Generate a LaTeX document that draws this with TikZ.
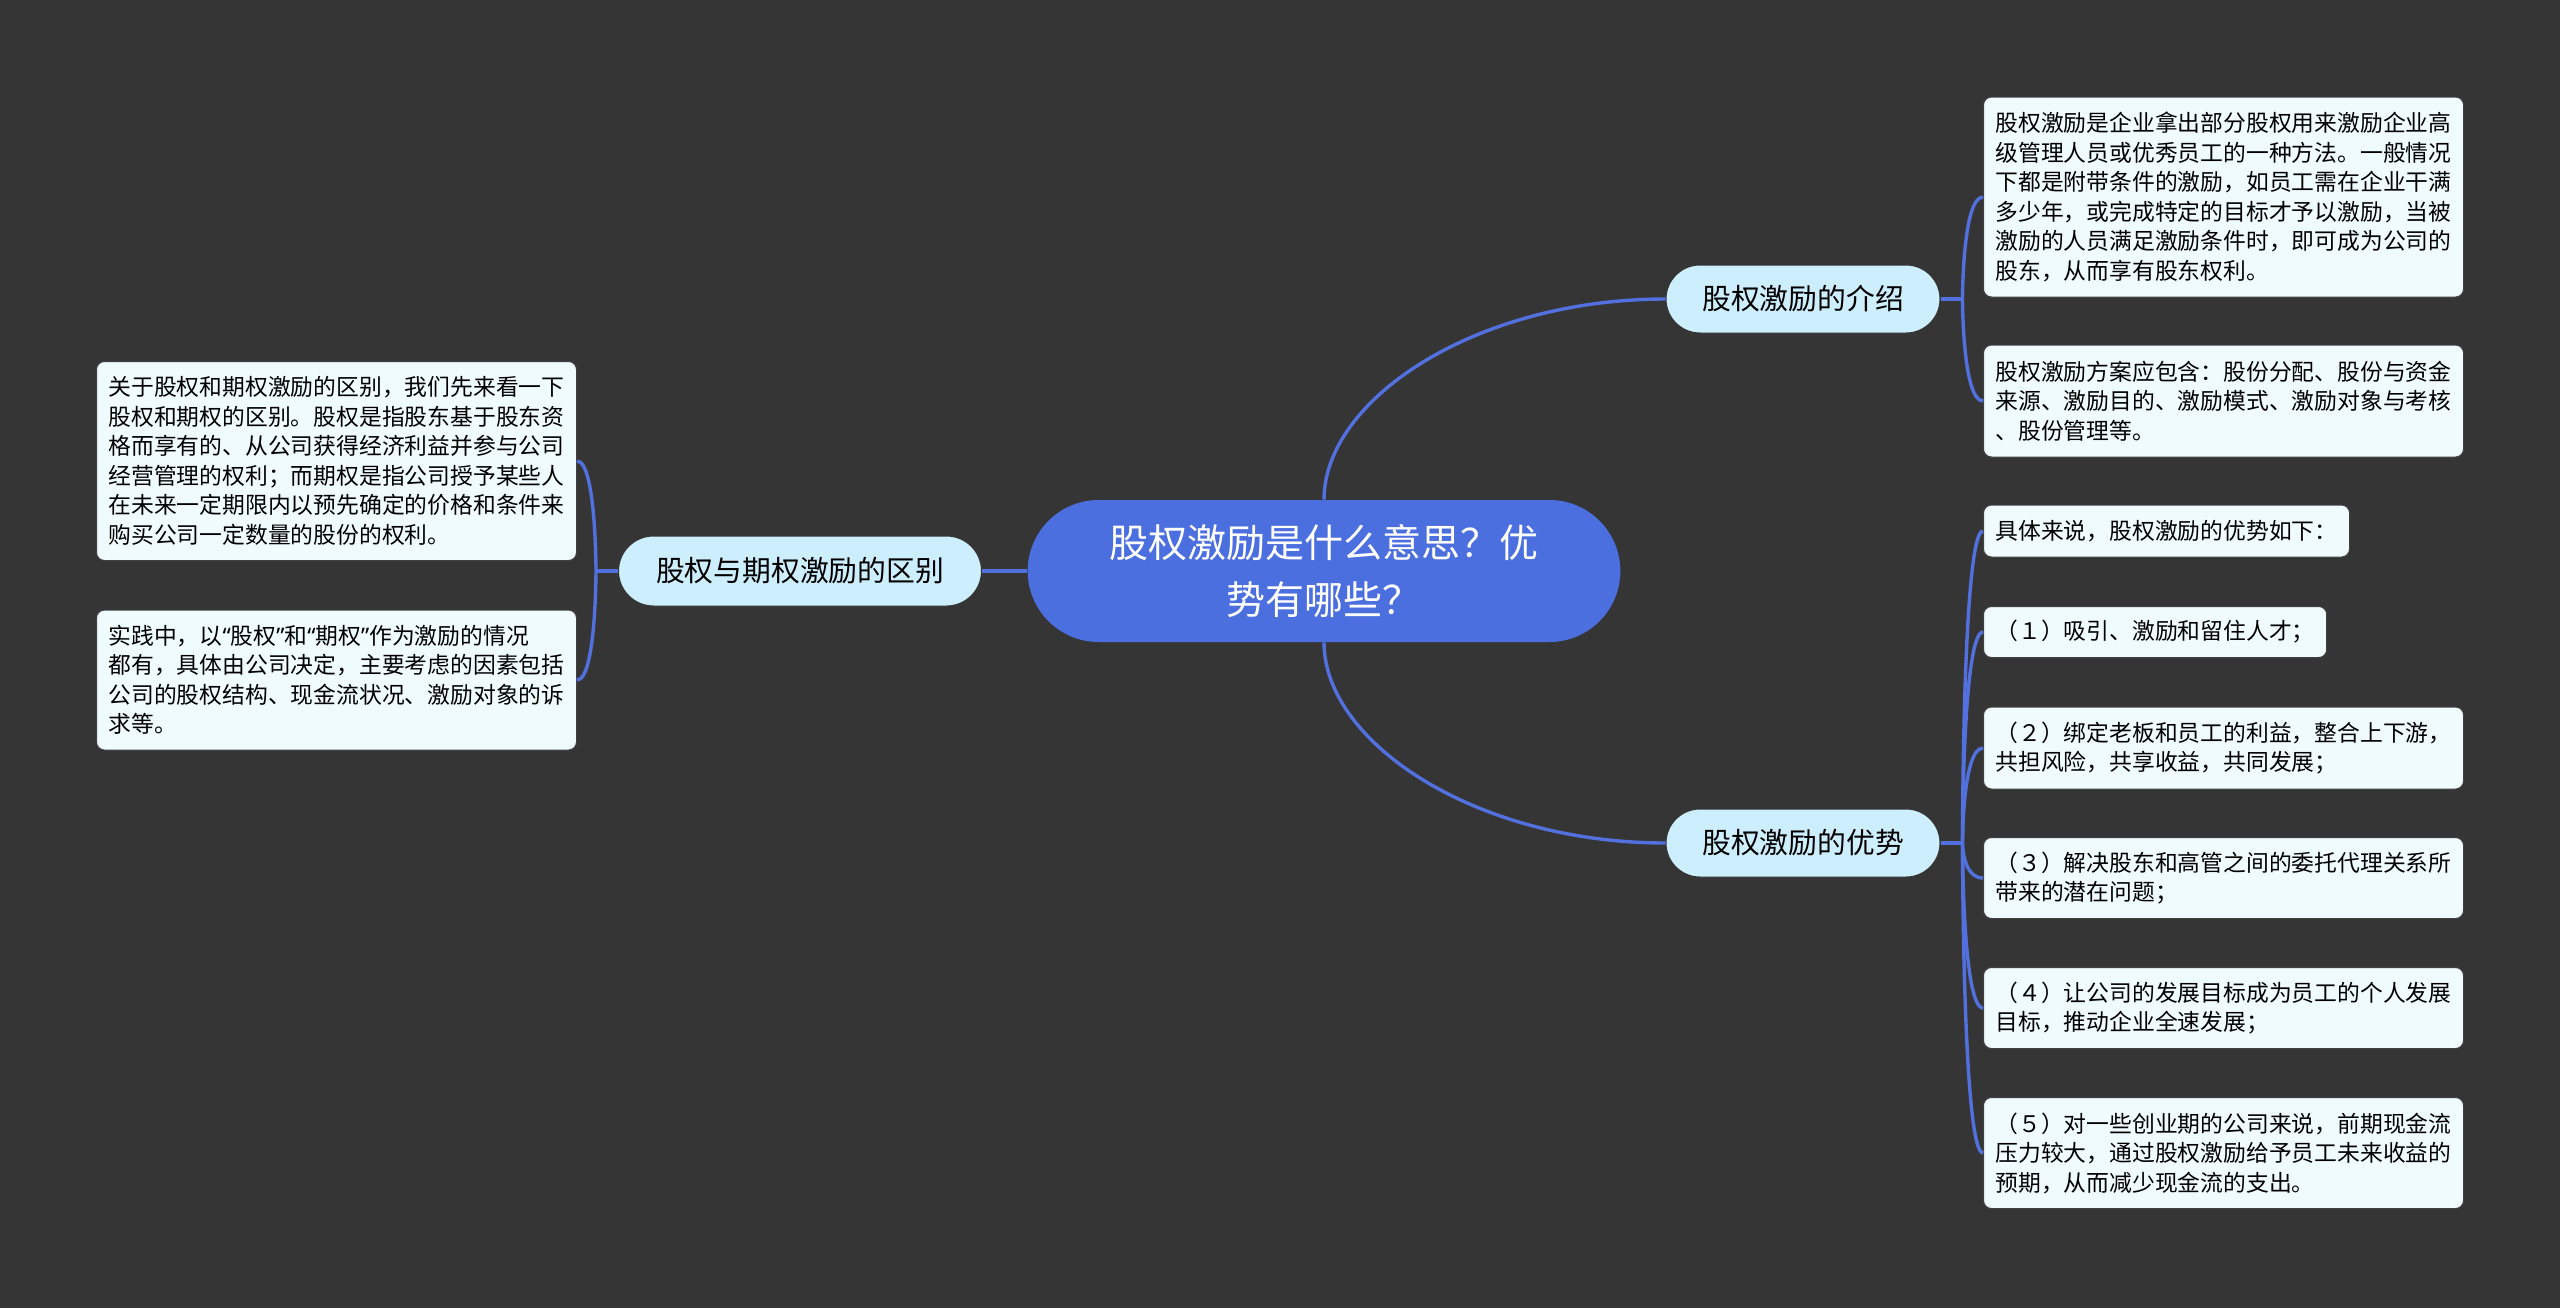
\documentclass[tikz,border=0pt]{standalone}
\usepackage{fontspec}
\setmainfont{Noto Sans CJK SC}
\newfontfamily\quotefont{Noto Sans}
\usetikzlibrary{shapes.misc,calc}
\definecolor{bgdark}{RGB}{54,53,54}
\definecolor{topicblue}{RGB}{76,111,223}
\definecolor{linkblue}{RGB}{82,112,222}
\definecolor{subfill}{RGB}{205,238,252}
\definecolor{leaffill}{RGB}{240,251,253}
\newcommand{\quoted}[1]{{\quotefont “}#1{\quotefont ”}}

\begin{document}
\begin{tikzpicture}[
    x=0.5pt, y=-0.5pt,
    topic/.style={rounded rectangle, fill=topicblue, text=white, minimum width=303pt, minimum height=71pt, align=center, font=\fontsize{19.5pt}{28.8pt}\selectfont},
    subtopic/.style={rounded rectangle, draw=black!80, line width=0.5pt, fill=subfill, minimum height=34pt, inner xsep=0pt, font=\fontsize{14.4pt}{17pt}\selectfont},
    leafbox/.style={rectangle, rounded corners=4pt, draw=black!75, line width=0.5pt, fill=leaffill, align=left, inner xsep=6pt, inner ysep=0pt, minimum width=240pt, font=\fontsize{11.4pt}{14.75pt}\selectfont},
    link/.style={draw=linkblue, line width=1.7pt}
]
    \useasboundingbox (0,0) rectangle (2560,1308);
    \fill[bgdark] (0,0) rectangle (2560,1308);

    % main topic and the three branches
    \node [topic] (main) at (1324,571) {股权激励是什么意思？优\\势有哪些？};
    \node [subtopic, minimum width=137pt] (intro) at (1803,299) {股权激励的介绍};
    \node [subtopic, minimum width=137pt] (adv) at (1803,843) {股权激励的优势};
    \node [subtopic, minimum width=181.5pt, minimum height=35pt] (diff) at (800,571) {股权与期权激励的区别};

    % right side, intro
    \node [leafbox, anchor=west, minimum height=100pt] (i1) at (1983,197) {股权激励是企业拿出部分股权用来激励企业高\\级管理人员或优秀员工的一种方法。一般情况\\下都是附带条件的激励，如员工需在企业干满\\多少年，或完成特定的目标才予以激励，当被\\激励的人员满足激励条件时，即可成为公司的\\股东，从而享有股东权利。};
    \node [leafbox, anchor=west, minimum height=56pt] (i2) at (1983,401) {股权激励方案应包含：股份分配、股份与资金\\来源、激励目的、激励模式、激励对象与考核\\、股份管理等。};

    % right side, advantages
    \node [leafbox, anchor=west, minimum width=182.5pt, minimum height=26pt] (a0) at (1983,531) {具体来说，股权激励的优势如下：};
    \node [leafbox, anchor=west, minimum width=171pt, minimum height=25.5pt] (a1) at (1983,632) {（１）吸引、激励和留住人才；};
    \node [leafbox, anchor=west, minimum height=41pt] (a2) at (1983,748) {（２）绑定老板和员工的利益，整合上下游，\\共担风险，共享收益，共同发展；};
    \node [leafbox, anchor=west, minimum height=40.5pt] (a3) at (1983,878) {（３）解决股东和高管之间的委托代理关系所\\带来的潜在问题；};
    \node [leafbox, anchor=west, minimum height=40.5pt] (a4) at (1983,1008) {（４）让公司的发展目标成为员工的个人发展\\目标，推动企业全速发展；};
    \node [leafbox, anchor=west, minimum height=55.5pt] (a5) at (1983,1153) {（５）对一些创业期的公司来说，前期现金流\\压力较大，通过股权激励给予员工未来收益的\\预期，从而减少现金流的支出。};

    % left side
    \node [leafbox, anchor=east, minimum height=99.5pt] (l1) at (577,461) {关于股权和期权激励的区别，我们先来看一下\\股权和期权的区别。股权是指股东基于股东资\\格而享有的、从公司获得经济利益并参与公司\\经营管理的权利；而期权是指公司授予某些人\\在未来一定期限内以预先确定的价格和条件来\\购买公司一定数量的股份的权利。};
    \node [leafbox, anchor=east, minimum height=70pt] (l2) at (577,680) {实践中，以\quoted{股权}和\quoted{期权}作为激励的情况\\都有，具体由公司决定，主要考虑的因素包括\\公司的股权结构、现金流状况、激励对象的诉\\求等。};

    % connectors
    \draw[link] (main.north) .. controls +(0,-100) and +(-190,0) .. (intro.west);
    \draw[link] (main.south) .. controls +(0,100) and +(-190,0) .. (adv.west);
    \draw[link] (main.west) -- (diff.east);

    \draw[link] (intro.east) -- ++(22,0) coordinate (ij);
    \foreach \leaf in {i1,i2}
        \draw[link] (ij) .. controls (ij) and (ij |- \leaf.west) .. (\leaf.west);

    \draw[link] (adv.east) -- ++(22,0) coordinate (aj);
    \foreach \leaf in {a0,a1,a2,a3,a4,a5}
        \draw[link] (aj) .. controls (aj) and (aj |- \leaf.west) .. (\leaf.west);

    \draw[link] (diff.west) -- ++(-22,0) coordinate (dj);
    \foreach \leaf in {l1,l2}
        \draw[link] (dj) .. controls (dj) and (dj |- \leaf.east) .. (\leaf.east);
\end{tikzpicture}
\end{document}
